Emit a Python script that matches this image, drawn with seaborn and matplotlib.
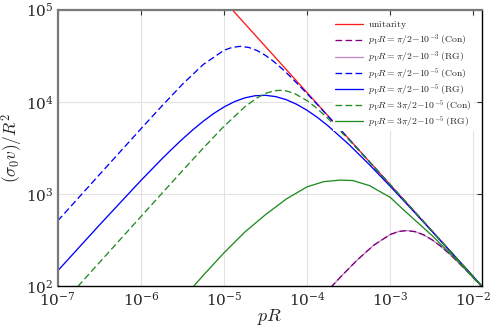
import numpy as np
import pandas as pd
import matplotlib
matplotlib.use("Agg")
import matplotlib.pyplot as plt
import seaborn as sns
from matplotlib.ticker import LogLocator, LogFormatterMathtext, NullLocator

# ---------------- data ----------------
# unitarity bound
x_unit = [1.2566e-5, 1e-4, 1e-3, 1e-2, 1.2566e-2]
y_unit = [1.0e5, 12566, 1256.6, 125.66, 100]

# p_V R = pi/2 - 1e-3 (Con) and (RG) -- the two coincide
x_p3 = [1.585e-4, 2.512e-4, 3.981e-4, 6.310e-4, 1.0e-3, 1.259e-3, 1.5708e-3, 1.995e-3,
        2.512e-3, 3.162e-3, 3.981e-3, 5.012e-3, 6.310e-3, 7.943e-3, 1.0e-2, 1.2566e-2]
y_p3_con = [79.9, 124.8, 190.6, 276.8, 362.4, 390.4, 400, 388.8,
            359.6, 318.7, 273.1, 228.3, 187.5, 152.2, 122.6, 98.5]
y_p3_rg = [79.9, 124.8, 190.6, 276.8, 362.4, 390.4, 400, 388.8,
           359.6, 318.7, 273.1, 228.3, 187.5, 152.2, 122.6, 98.5]

# p_V R = pi/2 - 1e-5 (Con)
x_b5_con = [1e-7, 3.162e-7, 1e-6, 1.778e-6, 3.162e-6, 5.623e-6, 1e-5, 1.259e-5, 1.5708e-5,
            1.995e-5, 2.512e-5, 3.162e-5, 3.981e-5, 5.012e-5, 6.310e-5, 1e-4, 1.259e-4,
            1.778e-4, 3.162e-4, 5.623e-4, 1e-3, 1.778e-3, 3.162e-3, 5.623e-3, 1e-2, 1.2566e-2]
y_b5_con = [509.4, 1611, 5073, 8941, 15484, 25386, 36243, 39040, 40000,
            38883, 35964, 31872, 27313, 22829, 18752, 12262, 9826,
            7009, 3964, 2233, 1256, 706.6, 397.3, 223.4, 125.7, 100]

# p_V R = pi/2 - 1e-5 (RG)
x_b5_rg = [1e-7, 3.162e-7, 1e-6, 1.778e-6, 2.371e-6, 3.162e-6, 4.217e-6, 5.623e-6,
           7.499e-6, 1e-5, 1.334e-5, 1.778e-5, 2.371e-5, 3.162e-5, 4.217e-5, 5.623e-5,
           7.499e-5, 1e-4, 1.334e-4, 1.778e-4, 3.162e-4, 5.623e-4, 1e-3, 1.778e-3,
           3.162e-3, 5.623e-3, 1e-2, 1.2566e-2]
y_b5_rg = [146.0, 456.8, 1395, 2382, 3077, 3934, 4961, 6146,
           7447, 8782, 10028, 11030, 11641, 11766, 11373, 10539,
           9389, 8078, 6746, 5502, 3460, 2074, 1208, 692.8,
           393.9, 223.0, 125.8, 100.2]

# p_V R = 3pi/2 - 1e-5 (Con)
x_g5_con = [1e-7, 1.778e-7, 3.162e-7, 1e-6, 3.162e-6, 5.623e-6, 1e-5, 1.778e-5, 2.512e-5,
            3.162e-5, 3.981e-5, 4.7124e-5, 5.623e-5, 7.079e-5, 1e-4, 1.259e-4, 1.778e-4,
            3.162e-4, 5.623e-4, 1e-3, 3.162e-3, 1e-2, 1.2566e-2]
y_g5_con = [56.6, 100.6, 179.0, 565.6, 1781.6, 3137.8, 5415, 8810, 11070,
            12339, 13146, 13333, 13128, 12300, 10283, 8755, 6603,
            3887, 2219, 1253.9, 397.3, 125.7, 100]

# p_V R = 3pi/2 - 1e-5 (RG)
x_g5_rg = [3.162e-6, 4.246e-6, 5.623e-6, 1e-5, 1.778e-5, 3.162e-5, 5.623e-5, 1e-4,
           1.585e-4, 2.512e-4, 3.548e-4, 5.623e-4, 1e-3, 1.413e-3, 3.162e-3,
           6.310e-3, 1e-2, 1.2566e-2]
y_g5_rg = [73.2, 97.7, 130.3, 229.1, 384.6, 595.7, 881.0, 1194,
           1358, 1413, 1396, 1230, 916.2, 683.9, 354.8,
           191.4, 123.0, 100]

labels = [
    r"$\mathrm{unitarity}$",
    r"$p_V R{=}\pi/2{-}10^{-3}\;\mathrm{(Con)}$",
    r"$p_V R{=}\pi/2{-}10^{-3}\;\mathrm{(RG)}$",
    r"$p_V R{=}\pi/2{-}10^{-5}\;\mathrm{(Con)}$",
    r"$p_V R{=}\pi/2{-}10^{-5}\;\mathrm{(RG)}$",
    r"$p_V R{=}3\pi/2{-}10^{-5}\;\mathrm{(Con)}$",
    r"$p_V R{=}3\pi/2{-}10^{-5}\;\mathrm{(RG)}$",
]

# ---------------- style ----------------
sns.set_style("white")
plt.rcParams["mathtext.fontset"] = "cm"
plt.rcParams["font.family"] = ["DejaVu Serif"]
plt.rcParams["lines.scale_dashes"] = False

fig = plt.figure(figsize=(4.93, 3.29), dpi=100)
ax = fig.add_axes([0.117, 0.1307, 0.860, 0.8398])

series = [
    (x_unit, y_unit, "#ff1a1a", "-", labels[0]),
    (x_p3, y_p3_con, "#800080", "--", labels[1]),
    (x_p3, y_p3_rg, "#c58ac8", "-", labels[2]),
    (x_b5_con, y_b5_con, "#0000ff", "--", labels[3]),
    (x_b5_rg, y_b5_rg, "#0000ff", "-", labels[4]),
    (x_g5_con, y_g5_con, "#228b22", "--", labels[5]),
    (x_g5_rg, y_g5_rg, "#228b22", "-", labels[6]),
]
order = [2, 1, 0, 3, 4, 5, 6]
lines = {}
for i in order:
    xs, ys, c, ls, lab = series[i]
    df = pd.DataFrame({"x": xs, "y": ys})
    sns.lineplot(data=df, x="x", y="y", ax=ax, color=c, linewidth=0.95,
                 label=lab, sort=True, estimator=None)
    ln = ax.get_lines()[-1]
    if ls == "--":
        ln.set_dashes([4.8, 2.4])
    lines[i] = ln

ax.set_xscale("log")
ax.set_yscale("log")
ax.set_xlim(1e-7, 1.2566e-2)
ax.set_ylim(1e2, 1e5)

ax.xaxis.set_major_locator(LogLocator(base=10, numticks=20))
ax.yaxis.set_major_locator(LogLocator(base=10, numticks=20))
ax.xaxis.set_minor_locator(NullLocator())
ax.yaxis.set_minor_locator(NullLocator())
ax.xaxis.set_major_formatter(LogFormatterMathtext())
ax.yaxis.set_major_formatter(LogFormatterMathtext())
ax.tick_params(axis="both", which="major", direction="in", length=3.5, width=0.8,
               labelsize=11, top=True, right=True, color="#333333")
ax.tick_params(axis="x", pad=3.5)
ax.tick_params(axis="y", pad=3)
ax.grid(True, color="#e3e3e3", linewidth=0.8)

for side in ["left", "top"]:
    ax.spines[side].set_color("#7a7a7a")
    ax.spines[side].set_linewidth(1.6)
for side in ["bottom", "right"]:
    ax.spines[side].set_color("black")
    ax.spines[side].set_linewidth(1.0)

ax.set_xlabel(r"$pR$", fontsize=13, labelpad=-1)
ax.set_ylabel(r"$(\sigma_0 v)/R^2$", fontsize=12.5, labelpad=0.5)

handles = [lines[i] for i in range(7)]
leg = ax.legend(handles, labels, loc="upper right", fontsize=7, frameon=True,
                facecolor="white", edgecolor="none", framealpha=1.0, fancybox=False,
                handlelength=2.9, labelspacing=0.12, borderaxespad=0.8,
                handletextpad=0.5, borderpad=0.2)

fig.savefig("out.png", dpi=100)
